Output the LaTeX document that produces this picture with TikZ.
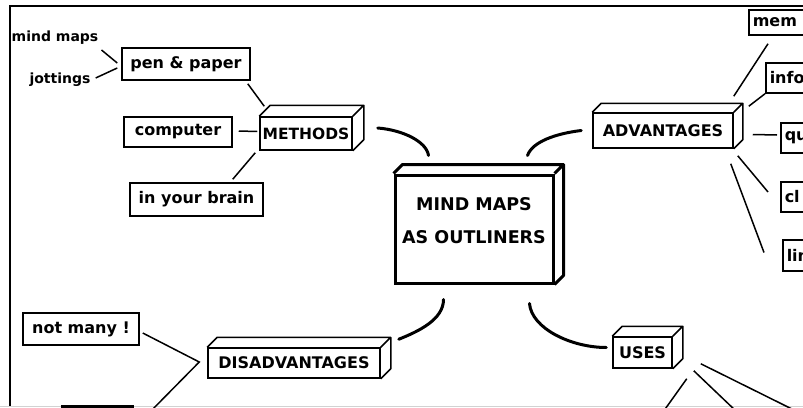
\documentclass[tikz,border=0pt]{standalone}
\usepackage{fontspec}
\setmainfont{DejaVu Sans}
\usetikzlibrary{positioning,calc}

\begin{document}
\begin{tikzpicture}[x=1pt, y=-1pt,
                    leaf/.style={draw, line width=1.5pt, fill=white, inner sep=0pt,
                                 font=\bfseries\fontsize{16}{18}\selectfont},
                    cut/.style={leaf, anchor=west, minimum width=60pt, text width=52pt,
                                inner xsep=4pt, align=left},
                    word/.style={inner sep=1pt, font=\bfseries\fontsize{14}{16}\selectfont},
                    twig/.style={line width=1.5pt},
                    stem/.style={line width=3pt, line cap=round}]

\path[use as bounding box, clip] (0,0) rectangle (803,407);
\draw[line width=2pt] (803,6) -| (10,407);
\draw[gray!35, line width=1pt] (0,406) -- (803,406);

% centre
\node[leaf, line width=3pt, minimum width=158pt, minimum height=108pt] (centre) at (474,229) {};
\node[align=center, font=\bfseries\fontsize{17.5}{33}\selectfont] (title) at (474,220.5) {MIND MAPS\\AS OUTLINERS};

% branches
\node[leaf, minimum width=92pt, minimum height=33pt, font=\bfseries\fontsize{15.5}{18}\selectfont] (methods) at (306,133.5) {METHODS};
\node[leaf, minimum width=140pt, minimum height=35pt] (adv) at (663,130.5) {ADVANTAGES};
\node[leaf, minimum width=172pt, minimum height=30pt] (dis) at (294,363) {DISADVANTAGES};
\node[leaf, minimum width=59pt, minimum height=31pt] (uses) at (642.5,352.5) {USES};

\foreach \n/\d/\w in {centre/9/3, methods/11/1.5, adv/9/1.5, dis/10/1.5, uses/10/1.5}
    \draw[line width=\w pt, line join=round] (\n.north west) -- ++(\d pt,\d pt)
        -| ([shift={(\d pt,\d pt)}]\n.south east) -- (\n.south east)
        (\n.north east) -- ++(\d pt,\d pt);

% methods
\node[word] (mm) at (55,38) {mind maps};
\node[word] (jot) at (60,80) {jottings};
\node[leaf, minimum width=128pt, minimum height=32pt] (pen) at (186,64) {pen \& paper};
\node[leaf, minimum width=108pt, minimum height=30pt] (comp) at (178,132) {computer};
\node[leaf, minimum width=133pt, minimum height=33pt] (brain) at (196.5,199.5) {in your brain};

% advantages
\node[cut, minimum height=25pt] (mem) at (748,22.5) {mem};
\node[cut, minimum height=30pt] (info) at (765,78) {info};
\node[cut, minimum height=30pt] (qu) at (780,138) {qu};
\node[cut, minimum height=30pt] (cl) at (780,197) {cl};
\node[cut, minimum height=31pt] (lin) at (782,255.5) {lin};

% disadvantages
\node[leaf, minimum width=116pt, minimum height=32pt] (few) at (81,329) {not many !};
\node[leaf, line width=3pt, anchor=north, minimum width=70pt, minimum height=30pt] (below) at (97,405) {};

\coordinate (dis off) at (148,414);
\coordinate (uses off a) at (798,412);
\coordinate (uses off b) at (737,412);
\coordinate (uses off c) at (663,412);

% thick curves
\draw[stem] ([shift={(25,-5.5)}]methods.east) .. controls +(25,2) and +(-2,-14) .. ([shift={(35,-18)}]centre.north west);
\draw[stem] ([shift={(-11,0)}]adv.west) .. controls +(-25,3) and +(5,-14) .. ([shift={(-27,-18)}]centre.north east);
\draw[stem] ([shift={(50,15)}]centre.south west) .. controls +(0,20) and +(20,-8) .. ([shift={(18,-8)}]dis.north east);
\draw[stem] ([shift={(-25,19)}]centre.south east) .. controls +(2,25) and +(-35,0) .. ([shift={(-6,-5)}]uses.west);

% thin lines
\draw[twig] ([shift={(2,12)}]mm.east) -- ([shift={(-4,-1)}]pen.west);
\draw[twig] ([shift={(4,-2)}]jot.east) -- ([shift={(-4,4)}]pen.west);
\draw[twig] ([shift={(-3,3)}]pen.south east) -- ([shift={(5,-10)}]methods.north west);
\draw[twig] ([shift={(6,-1)}]comp.east) -- ([shift={(-2,-2)}]methods.west);
\draw[twig] ([shift={(-4,2)}]methods.south west) -- ([shift={(-31,-3)}]brain.north east);

\draw[twig] ([shift={(0,-16)}]adv.north east) -- ([shift={(20,8)}]mem.south west);
\draw[twig] ([shift={(15,-6)}]adv.north east) -- (info.south west);
\draw[twig] ([shift={(19,4)}]adv.east) -- ([shift={(-3,-3)}]qu.west);
\draw[twig] ([shift={(4,7)}]adv.south east) -- ([shift={(-12,-5)}]cl.west);
\draw[twig] ([shift={(-3,15)}]adv.south east) -- ([shift={(-18,-3)}]lin.west);

\draw[twig] ([shift={(3,4)}]few.east) -- ([shift={(-8,-1)}]dis.west) -- (dis off);

\draw[twig] ([shift={(28,-5)}]uses.south east) -- (uses off a);
\draw[twig] ([shift={(21,2)}]uses.south east) -- (uses off b);
\draw[twig] ([shift={(14,10)}]uses.south east) -- (uses off c);
\end{tikzpicture}
\end{document}
